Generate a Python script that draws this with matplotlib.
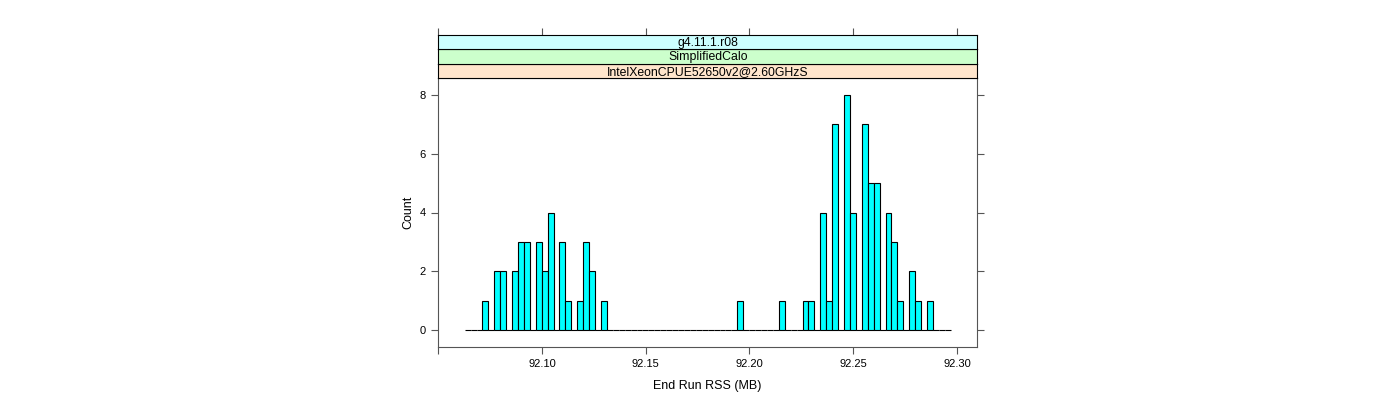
import numpy as np
import matplotlib
matplotlib.use("Agg")
import matplotlib.pyplot as plt

plt.rcParams['font.family'] = ['Liberation Sans', 'DejaVu Sans']

# -------------------------------
# Data (histogram of End Run RSS)
# -------------------------------
bin_start = 92.0627
bin_width = 0.002858
counts = [
    0, 0, 0, 1, 0, 2, 2, 0, 2, 3,
    3, 0, 3, 2, 4, 0, 3, 1, 0, 1,
    3, 2, 0, 1, 0, 0, 0, 0, 0, 0,
    0, 0, 0, 0, 0, 0, 0, 0, 0, 0,
    0, 0, 0, 0, 0, 0, 1, 0, 0, 0,
    0, 0, 0, 1, 0, 0, 0, 1, 1, 0,
    4, 1, 7, 0, 8, 4, 0, 7, 5, 5,
    0, 4, 3, 1, 0, 2, 1, 0, 1, 0,
    0, 0,
]
x_ticks = [92.05, 92.10, 92.15, 92.20, 92.25, 92.30]
x_labels = ["", "92.10", "92.15", "92.20", "92.25", "92.30"]
y_ticks = [0, 2, 4, 6, 8]
strip_labels = ["IntelXeonCPUE52650v2@2.60GHzS", "SimplifiedCalo", "g4.11.1.r08"]
strip_colors = ["#ffe5cc", "#ccffcc", "#ccffff"]

xlim = (92.0501, 92.3097)
ylim = (-0.56, 8.56)
axis_col = "#555555"

# -------------------------------
# Figure / panel
# -------------------------------
W, H = 1400, 400
fig = plt.figure(figsize=(14, 4), dpi=100)

left, right = 438.3 / W, 977 / W
bottom, top = (H - 346.7) / H, (H - 78.3) / H
ax = fig.add_axes([left, bottom, right - left, top - bottom])

edges = bin_start + bin_width * np.arange(len(counts))
ax.bar(edges, counts, width=bin_width, align="edge",
       color="#00FFFF", edgecolor="black", linewidth=0.8)

ax.set_xlim(*xlim)
ax.set_ylim(*ylim)
ax.set_xticks(x_ticks)
ax.set_xticklabels(x_labels, fontsize=8)
ax.set_yticks(y_ticks)
ax.set_yticklabels([str(v) for v in y_ticks], fontsize=8)
ax.tick_params(axis="both", direction="out", length=5, width=0.8,
               color=axis_col, pad=4)
ax.tick_params(axis="y", right=True, labelright=False)
for s in ax.spines.values():
    s.set_color(axis_col)
    s.set_linewidth(0.8)
ax.set_xlabel("End Run RSS (MB)", fontsize=9, labelpad=8)
ax.set_ylabel("Count", fontsize=9, labelpad=4)

# -------------------------------
# Strips
# -------------------------------
strip_edges = [78.3, 63.8, 49.3, 35.0]
for i, (lab, col) in enumerate(zip(strip_labels, strip_colors)):
    y0 = (H - strip_edges[i]) / H
    y1 = (H - strip_edges[i + 1]) / H
    sax = fig.add_axes([left, y0, right - left, y1 - y0])
    sax.set_facecolor(col)
    sax.set_xlim(*xlim)
    sax.set_yticks([])
    for s in sax.spines.values():
        s.set_color("black")
        s.set_linewidth(0.8)
    sax.text(0.5, 0.45, lab, transform=sax.transAxes, ha="center",
             va="center", fontsize=8.8)
    if i == len(strip_labels) - 1:
        sax.set_xticks(x_ticks)
        sax.tick_params(axis="x", bottom=False, labelbottom=False,
                        top=True, labeltop=False, direction="out",
                        length=5, width=0.8, color=axis_col)
    else:
        sax.set_xticks([])

fig.savefig("out.png", dpi=100)
